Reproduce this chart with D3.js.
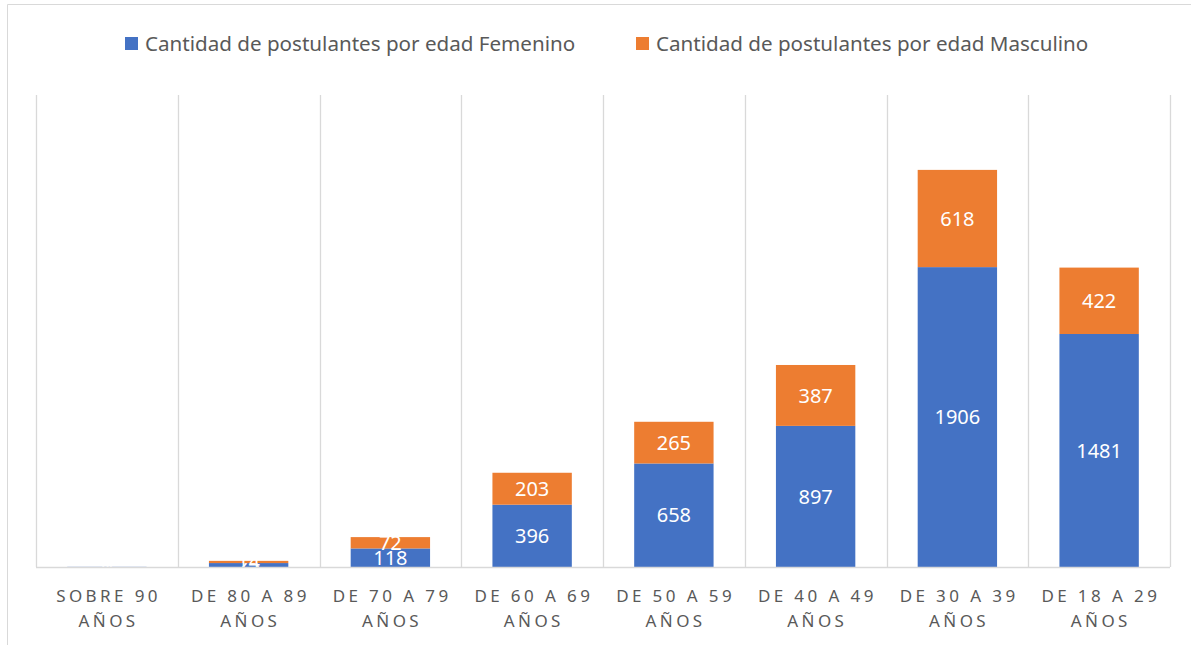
<!DOCTYPE html>
<html>
<head>
<meta charset="utf-8">
<script src="https://cdn.jsdelivr.net/npm/d3@7"></script>
<style>
  body { margin: 0; background: #fff; }
  svg text { font-family: "Noto Sans", "Open Sans", sans-serif; }
</style>
</head>
<body>
<div id="chart"></div>
<script>
// data
const categories = ['SOBRE 90 AÑOS', 'DE 80 A 89 AÑOS', 'DE 70 A 79 AÑOS', 'DE 60 A 69 AÑOS',
  'DE 50 A 59 AÑOS', 'DE 40 A 49 AÑOS', 'DE 30 A 39 AÑOS', 'DE 18 A 29 AÑOS'];
const femenino = [1, 25, 118, 396, 658, 897, 1906, 1481];
const masculino = [0, 14, 72, 203, 265, 387, 618, 422];
const seriesNames = ['Cantidad de postulantes por edad Femenino', 'Cantidad de postulantes por edad Masculino'];
const colors = ['#4472c4', '#ed7d31'];
const yMax = 3000;

const W = 1191, H = 645;
const margin = { left: 36, right: 21, top: 95, bottom: 78 };

const svg = d3.select('#chart').append('svg')
  .attr('width', W)
  .attr('height', H);

// outer frame (only top and left edges visible)
svg.append('path')
  .attr('d', `M7.5,${H} V4.5 H${W}`)
  .attr('fill', 'none')
  .attr('stroke', '#d9d9d9')
  .attr('stroke-width', 1);

const x = d3.scaleBand()
  .domain(categories)
  .range([margin.left, W - margin.right])
  .paddingInner(0.44)
  .paddingOuter(0.22);

const y = d3.scaleLinear()
  .domain([0, yMax])
  .range([H - margin.bottom, margin.top]);

// vertical gridlines at category boundaries
const bounds = d3.range(categories.length + 1).map(i => margin.left + i * (W - margin.left - margin.right) / categories.length);
svg.append('g').selectAll('line')
  .data(bounds)
  .enter()
  .append('line')
  .attr('x1', d => Math.round(d) + 0.5)
  .attr('x2', d => Math.round(d) + 0.5)
  .attr('y1', y(yMax))
  .attr('y2', y(0))
  .attr('stroke', '#d9d9d9')
  .attr('stroke-width', 1.3);

// stacked bars
const rows = categories.map((c, i) => ({ cat: c, Femenino: femenino[i], Masculino: masculino[i] }));
const stack = d3.stack().keys(['Femenino', 'Masculino'])(rows);

const layers = svg.append('g').selectAll('g')
  .data(stack)
  .enter()
  .append('g')
  .attr('fill', (d, i) => colors[i]);

layers.selectAll('rect')
  .data(d => d)
  .enter()
  .append('rect')
  .attr('x', d => x(d.data.cat))
  .attr('width', x.bandwidth())
  .attr('y', d => y(d[1]))
  .attr('height', d => y(d[0]) - y(d[1]));

// value labels
layers.selectAll('text')
  .data(d => d.map(v => ({ v, val: v[1] - v[0] })))
  .enter()
  .append('text')
  .attr('x', d => x(d.v.data.cat) + x.bandwidth() / 2)
  .attr('y', d => (y(d.v[0]) + y(d.v[1])) / 2)
  .attr('dy', '0.36em')
  .attr('text-anchor', 'middle')
  .attr('fill', '#fff')
  .attr('font-size', 20)
  .text(d => d.val);

// x axis line
svg.append('line')
  .attr('x1', margin.left)
  .attr('x2', W - margin.right)
  .attr('y1', y(0) + 0.5)
  .attr('y2', y(0) + 0.5)
  .attr('stroke', '#d9d9d9')
  .attr('stroke-width', 1.3);

// category labels, two lines, letter spaced
const labels = svg.append('g').selectAll('text')
  .data(categories)
  .enter()
  .append('text')
  .attr('text-anchor', 'middle')
  .attr('fill', '#595959')
  .attr('font-size', 17)
  .attr('letter-spacing', 3.4);

labels.each(function (d) {
  const cx = x(d) + x.bandwidth() / 2;
  const parts = d.split(' ');
  const lines = [parts.slice(0, -1).join(' '), parts[parts.length - 1]];
  d3.select(this).selectAll('tspan')
    .data(lines)
    .enter()
    .append('tspan')
    .attr('x', cx + 1.7)
    .attr('y', (l, i) => 602 + i * 25)
    .text(l => l);
});

// legend
const legendX = [125, 636];
const legend = svg.append('g').selectAll('g')
  .data(seriesNames)
  .enter()
  .append('g')
  .attr('transform', (d, i) => `translate(${legendX[i]},37)`);

legend.append('rect')
  .attr('width', 13)
  .attr('height', 13)
  .attr('fill', (d, i) => colors[i]);

legend.append('text')
  .attr('x', 20)
  .attr('y', 7)
  .attr('dy', '0.36em')
  .attr('fill', '#595959')
  .attr('font-size', 20.6)
  .text(d => d);
</script>
</body>
</html>
